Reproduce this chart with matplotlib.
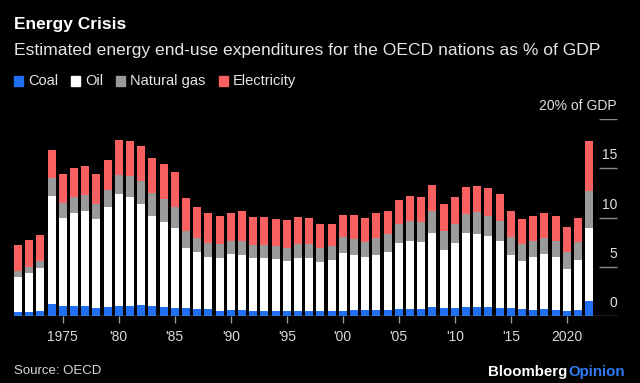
import numpy as np
import matplotlib
matplotlib.use('Agg')
import matplotlib.pyplot as plt
from matplotlib.patches import Rectangle

plt.rcParams['font.family'] = ['Liberation Sans', 'DejaVu Sans']

# data (% of GDP), 1971-2022
years = list(range(1971, 2023))
coal = [0.37, 0.37, 0.47, 1.18, 0.98, 0.98, 0.98, 0.84, 0.88, 0.98,
        1.01, 1.08, 0.98, 0.91, 0.84, 0.78, 0.71, 0.71, 0.54, 0.57,
        0.57, 0.47, 0.47, 0.47, 0.47, 0.47, 0.47, 0.47, 0.47, 0.47,
        0.57, 0.57, 0.57, 0.57, 0.68, 0.68, 0.68, 0.88, 0.78, 0.78,
        0.88, 0.88, 0.88, 0.78, 0.78, 0.68, 0.64, 0.68, 0.57, 0.51,
        0.57, 1.49]
oil = [3.62, 4.02, 4.43, 11.05, 9.02, 9.49, 9.70, 8.96, 10.23, 11.38,
       11.08, 10.31, 9.22, 8.68, 8.05, 6.11, 5.81, 5.27, 5.34, 5.71,
       5.61, 5.41, 5.41, 5.31, 5.10, 5.41, 5.41, 5.04, 5.24, 5.92,
       5.65, 5.41, 5.65, 5.92, 6.72, 6.92, 6.82, 7.53, 5.91, 6.62,
       7.53, 7.46, 7.23, 6.82, 5.44, 4.93, 5.34, 5.60, 5.41, 4.29,
       5.11, 7.46]
gas = [0.60, 0.61, 0.67, 1.79, 1.52, 1.66, 1.62, 1.62, 1.66, 2.00,
       2.10, 2.33, 2.30, 2.30, 2.22, 1.79, 1.42, 1.45, 1.38, 1.32,
       1.42, 1.35, 1.35, 1.31, 1.36, 1.48, 1.45, 1.35, 1.35, 1.58,
       1.62, 1.55, 1.72, 1.79, 1.96, 2.06, 2.06, 2.27, 1.99, 1.99,
       1.93, 2.17, 2.09, 2.06, 1.75, 1.65, 1.66, 1.66, 1.66, 1.65,
       1.79, 3.72]
elec = [2.61, 2.67, 2.64, 2.80, 2.87, 2.87, 2.90, 3.01, 3.07, 3.48,
        3.55, 3.51, 3.51, 3.52, 3.52, 3.25, 3.17, 2.98, 2.88, 2.87,
        3.01, 2.87, 2.87, 2.77, 2.77, 2.64, 2.57, 2.53, 2.33, 2.33,
        2.46, 2.37, 2.47, 2.43, 2.46, 2.57, 2.57, 2.63, 2.64, 2.74,
        2.77, 2.70, 2.80, 2.74, 2.64, 2.54, 2.56, 2.53, 2.56, 2.54,
        2.53, 5.07]

labels = ['Coal', 'Oil', 'Natural gas', 'Electricity']
colors = ['#1f6ff2', '#ffffff', '#9a9a9a', '#fa6060']
xtick_years = list(range(1975, 2021, 5))
xtick_labels = ['1975', "'80", "'85", "'90", "'95", "'00", "'05", "'10", "'15", '2020']

W, H = 640, 383
fig = plt.figure(figsize=(W / 100, H / 100), dpi=100, facecolor='black')

# axes placed in pixels: x from 14 to 618, y from 316 (0) up to 119 (20)
ax = fig.add_axes([14 / W, 1 - 316 / H, 604 / W, 197 / H])
ax.set_facecolor('black')
x0 = 1971 - 4 / 11.2
x1 = 1971 + 600 / 11.2
ax.set_xlim(x0, x1)
ax.set_ylim(0, 20)

bottom = np.zeros(len(years))
for vals, c in zip([coal, oil, gas, elec], colors):
    ax.bar(years, vals, bottom=bottom, width=0.72, color=c, linewidth=0)
    bottom += np.array(vals)

# right side value ticks
tx0 = 1971 + (599 - 18) / 11.2
tx1 = 1971 + (617 - 18) / 11.2
ax.hlines([5, 10, 15, 20], tx0, tx1, color='#8a8a8a', lw=1)
for v in [0, 5, 10, 15]:
    ax.text(tx1, v + 0.6, str(v), color='#e0e0e0', fontsize=10,
            ha='right', va='bottom')
ax.text(tx1, 20.6, '20% of GDP', color='#e0e0e0', fontsize=10,
        ha='right', va='bottom', clip_on=False)
ax.axhline(0, color='#9a9a9a', lw=1)

for s in ax.spines.values():
    s.set_visible(False)
ax.set_yticks([])
ax.set_xticks(xtick_years)
ax.set_xticklabels(xtick_labels)
ax.tick_params(axis='x', colors='#9a9a9a', labelcolor='#d8d8d8',
               length=5, width=1, labelsize=10, pad=5)

# titles
fig.text(14 / W, 1 - 25 / H, 'Energy Crisis', color='white', fontsize=12.5,
         fontweight='bold', va='center')
fig.text(14 / W, 1 - 51 / H,
         'Estimated energy end-use expenditures for the OECD nations as % of GDP',
         color='#e6e6e6', fontsize=12.6, va='center')

# legend
lx = 14
for lab, c in zip(labels, colors):
    fig.patches.append(Rectangle((lx / W, 1 - 86 / H), 9 / W, 10 / H,
                                 transform=fig.transFigure, color=c))
    t = fig.text((lx + 14) / W, 1 - 81 / H, lab, color='#e6e6e6',
                 fontsize=10.5, va='center')
    fig.canvas.draw()
    bb = t.get_window_extent()
    lx = bb.x1 + 13

fig.text(14 / W, 1 - 371 / H, 'Source: OECD', color='#d8d8d8', fontsize=9.5,
         va='center')
t = fig.text(488 / W, 1 - 372 / H, 'Bloomberg', color='white', fontsize=10.8,
             fontweight='bold', va='center')
fig.canvas.draw()
fig.text(t.get_window_extent().x1 / W + 0.002, 1 - 372 / H, 'Opinion',
         color='#2f7bf5', fontsize=10.8, fontweight='bold', va='center')

fig.savefig('out.png', dpi=100, facecolor='black')
